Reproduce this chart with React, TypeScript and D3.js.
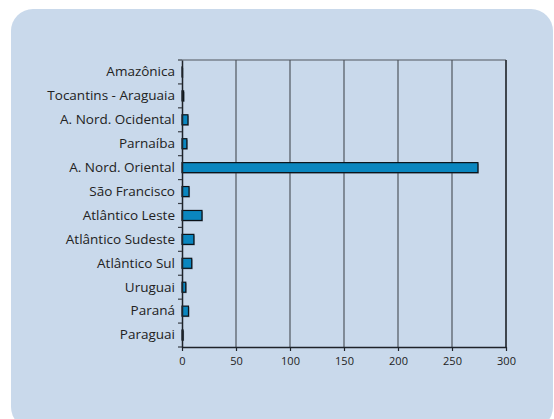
import { useEffect, useRef } from 'react'
import * as d3 from 'd3'

const regions = [
  'Amazônica', 'Tocantins - Araguaia', 'A. Nord. Ocidental', 'Parnaíba',
  'A. Nord. Oriental', 'São Francisco', 'Atlântico Leste', 'Atlântico Sudeste',
  'Atlântico Sul', 'Uruguai', 'Paraná', 'Paraguai',
]
const values = [0.4, 1.5, 5.5, 4.5, 274, 6.5, 18.5, 11, 9, 3.5, 6, 1]
const xTicks = [0, 50, 100, 150, 200, 250, 300]

export default function App() {
  const svgRef = useRef<SVGSVGElement>(null)

  useEffect(() => {
    if (!svgRef.current) return
    const svg = d3.select(svgRef.current)
    svg.selectAll('*').remove()

    const W = 554, H = 419
    const margin = { top: 60, right: 48, bottom: 72, left: 182 }
    const iW = W - margin.left - margin.right
    const iH = H - margin.top - margin.bottom
    const font = '"Open Sans", Lato, sans-serif'

    // background panel
    svg.append('rect')
      .attr('x', 11).attr('y', 9).attr('width', 542).attr('height', 420)
      .attr('rx', 22).attr('fill', '#c9d9eb')

    const g = svg.append('g').attr('transform', `translate(${margin.left},${margin.top})`)

    const x = d3.scaleLinear().domain([0, 300]).range([0, iW])
    const y = d3.scaleBand().domain(regions).range([0, iH])

    // vertical grid
    g.append('g')
      .selectAll('line')
      .data(xTicks.slice(1))
      .join('line')
      .attr('x1', d => x(d)).attr('x2', d => x(d))
      .attr('y1', 0).attr('y2', iH)
      .attr('stroke', '#50565e').attr('stroke-width', 1.2)

    // frame top + right
    g.append('line').attr('x1', 0).attr('x2', iW).attr('y1', 0).attr('y2', 0)
      .attr('stroke', '#50565e').attr('stroke-width', 1.2)
    g.append('line').attr('x1', iW).attr('x2', iW).attr('y1', 0).attr('y2', iH)
      .attr('stroke', '#2a2f36').attr('stroke-width', 1.5)

    // bars with faint shadow
    const bh = 10
    g.selectAll('rect.shadow')
      .data(regions)
      .join('rect')
      .attr('class', 'shadow')
      .attr('x', 1)
      .attr('y', d => (y(d) ?? 0) + (y.bandwidth() - bh) / 2 + 1)
      .attr('width', (d, i) => x(values[i]))
      .attr('height', bh)
      .attr('fill', '#3a4a5a').attr('opacity', 0.5)
    g.selectAll('rect.bar')
      .data(regions)
      .join('rect')
      .attr('class', 'bar')
      .attr('x', 0)
      .attr('y', d => (y(d) ?? 0) + (y.bandwidth() - bh) / 2)
      .attr('width', (d, i) => x(values[i]))
      .attr('height', bh)
      .attr('fill', '#0a86bf').attr('stroke', '#0b1218').attr('stroke-width', 1.2)

    // y axis
    g.append('g')
      .call(d3.axisLeft(y).tickSize(0).tickPadding(7))
      .call(sel => {
        sel.select('.domain').attr('stroke', '#1e2329').attr('stroke-width', 1.5)
        sel.selectAll('text').attr('font-size', 13.5).attr('fill', '#222').attr('font-family', font)
      })
    g.append('g')
      .selectAll('line')
      .data(d3.range(regions.length + 1))
      .join('line')
      .attr('x1', -4).attr('x2', 0)
      .attr('y1', i => i * y.step()).attr('y2', i => i * y.step())
      .attr('stroke', '#3a3f46').attr('stroke-width', 1.2)

    // x axis
    g.append('g').attr('transform', `translate(0,${iH})`)
      .call(d3.axisBottom(x).tickValues(xTicks).tickSize(4).tickPadding(6).tickSizeOuter(0))
      .call(sel => {
        sel.select('.domain').attr('stroke', '#1e2329').attr('stroke-width', 1.5)
        sel.selectAll('.tick line').attr('stroke', '#1e2329').attr('stroke-width', 1.2)
        sel.selectAll('text').attr('font-size', 11).attr('fill', '#222').attr('font-family', font)
      })
  }, [])

  return (
    <svg ref={svgRef} width={554} height={419}
      style={{ position: 'absolute', left: 0, top: 0, background: '#fff' }} />
  )
}
